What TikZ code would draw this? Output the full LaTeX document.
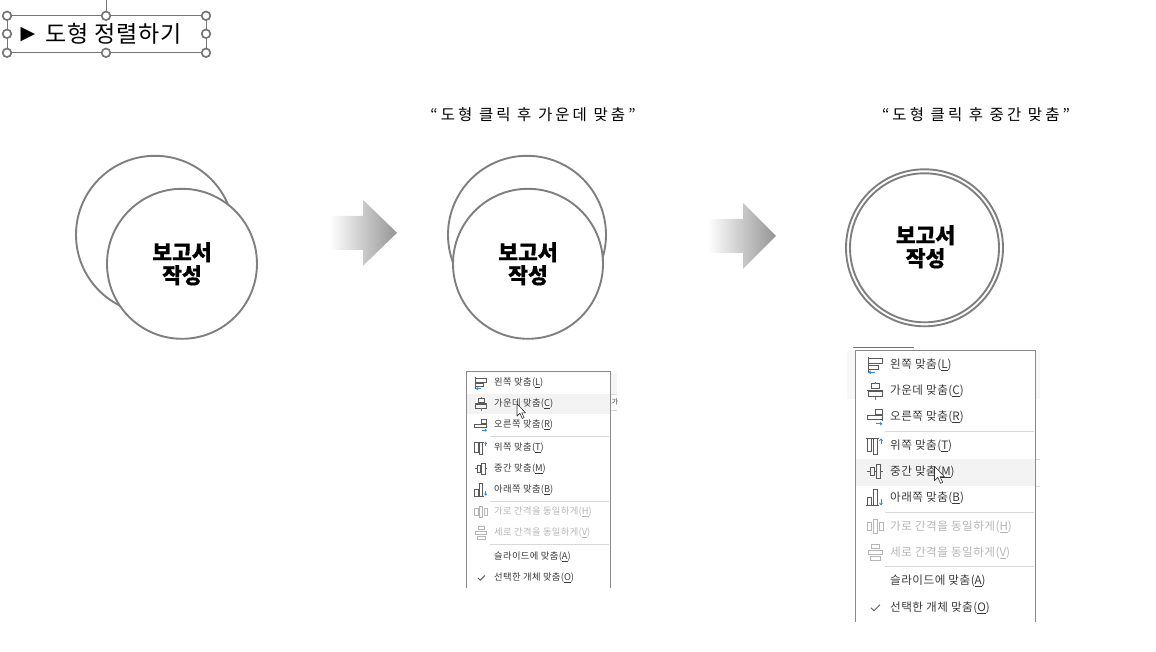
\documentclass[tikz,border=0pt]{standalone}
\usepackage{fontspec}
\setmainfont{Noto Sans CJK KR}
\newfontfamily\arrowfont{DejaVu Sans}
\newfontfamily\spacedfont[LetterSpace=20]{Noto Sans CJK KR}
\newfontfamily\titlefont[LetterSpace=4,WordSpace=1.6]{Noto Sans CJK KR}
\newfontfamily\menufont[LetterSpace=4]{Noto Sans CJK KR}
\newfontfamily\heavyfont[BoldFeatures={FakeBold=0.5}]{Noto Sans CJK KR}
\definecolor{ring}{HTML}{7F7F7F}
\definecolor{menuedge}{HTML}{8A8A8A}
\definecolor{sepline}{HTML}{D9D9D9}
\definecolor{hilite}{HTML}{F3F3F3}
\definecolor{itemtext}{HTML}{3A3A3A}
\definecolor{graytext}{HTML}{B5B5B5}
\definecolor{iconblue}{HTML}{2E8FD8}
\definecolor{icongray}{HTML}{5A5A5A}
\definecolor{handle}{HTML}{767676}
\tikzset{
  x=1pt,y=-1pt,
  ringc/.style={draw=ring,line width=1.9pt,fill=white},
  bigtext/.style={font=\heavyfont\fontsize{21.5}{23}\selectfont\bfseries,align=center,text=black,inner sep=0pt},
  quote/.style={font=\spacedfont\fontsize{15.5}{17}\selectfont,text=black,inner sep=0pt},
  handlec/.style={draw=handle,line width=1.7pt,fill=white},
  selbox/.style={draw=handle,line width=1pt},
  arrowshade/.style={left color=white,right color=black!42,draw=none,shading angle=90},
  itemA/.style={anchor=west,inner sep=0pt,text=itemtext,font=\menufont\fontsize{9.3}{10}\selectfont},
  itemB/.style={anchor=west,inner sep=0pt,text=itemtext,font=\menufont\fontsize{11.6}{12}\selectfont},
  dimA/.style={itemA,text=graytext},
  dimB/.style={itemB,text=graytext},
  medge/.style={draw=menuedge,line width=1pt},
  msep/.style={draw=sepline,line width=0.9pt},
  cursorc/.style={draw=black!80,fill=white,line width=0.6pt,line join=round},
  ico/.style={draw=icongray,line width=0.7pt,fill=none},
  icod/.style={draw=graytext,line width=0.7pt,fill=none},
  icoa/.style={draw=iconblue,line width=0.8pt},
  pics/alignleft/.style={code={
    \draw[ico] (-7,-8)--(-7,8); \draw[ico] (-7,-6) rectangle (7,-1); \draw[ico] (-7,1) rectangle (3,5);
    \draw[icoa] (-6,7.5)--(0,7.5); \draw[icoa] (-6,7.5)--(-4,6); \draw[icoa] (-6,7.5)--(-4,9);}},
  pics/aligncenter/.style={code={
    \draw[ico] (-4,-7) rectangle (4,-2); \draw[ico] (-7,1) rectangle (7,6);
    \draw[ico] (-8,-.5)--(8,-.5); \draw[icoa] (0,-9)--(0,-7); \draw[icoa] (0,6)--(0,9);}},
  pics/alignright/.style={code={
    \draw[ico] (7,-8)--(7,4); \draw[ico] (0,-7) rectangle (7,-2); \draw[ico] (-8,-1) rectangle (7,3);
    \draw[icoa] (1,7)--(7,7); \draw[icoa] (7,7)--(5,5.5); \draw[icoa] (7,7)--(5,8.5);}},
  pics/aligntop/.style={code={
    \draw[ico] (-9,-7)--(4,-7); \draw[ico] (-8,-7) rectangle (-4,6); \draw[ico] (-2,-7) rectangle (2,9);
    \draw[icoa] (6,-2)--(6,-7); \draw[icoa] (6,-7)--(4.5,-5); \draw[icoa] (6,-7)--(7.5,-5);}},
  pics/alignmid/.style={code={
    \draw[ico] (-8,0)--(-5,0); \draw[ico] (-1,0)--(1,0); \draw[ico] (5,0)--(8,0);
    \draw[ico] (-5,-4) rectangle (-1,4); \draw[ico] (1,-7) rectangle (5,7);}},
  pics/alignbot/.style={code={
    \draw[ico] (-9,8)--(4,8); \draw[ico] (-8,0) rectangle (-4,8); \draw[ico] (-2,-8) rectangle (2,8);
    \draw[icoa] (6,1)--(6,7); \draw[icoa] (6,7)--(4.5,5); \draw[icoa] (6,7)--(7.5,5);}},
  pics/disth/.style={code={
    \draw[icod] (-8,-4) rectangle (-4,4); \draw[icod] (-2,-7) rectangle (2,7); \draw[icod] (4,-4) rectangle (8,4);}},
  pics/distv/.style={code={
    \draw[icod] (-4,-8) rectangle (4,-4); \draw[icod] (-7,-2) rectangle (7,2); \draw[icod] (-5,4) rectangle (5,8);}},
  pics/tick/.style={code={
    \draw[draw=icongray,line width=0.9pt] (-4,0)--(-1,3)--(5,-3);}},
  pics/pointer/.style={code={
    \draw[cursorc] (0,0)--(0,13)--(3,10)--(5.5,15.5)--(7.5,14.5)--(5,9.5)--(9,9.5)--cycle;}},
}
\begin{document}
\begin{tikzpicture}
\useasboundingbox (0,-0.8) rectangle (1156,651.2);
% title box
\draw[selbox] (106,-0.8)--(106,15);
\draw[selbox] (7,15) rectangle (206,52);
\node[inner sep=0pt,font=\arrowfont\fontsize{19}{22}\selectfont] (tri) at (28,34) {▶};
\node[inner sep=0pt,anchor=west,font=\titlefont\fontsize{23}{26}\selectfont] (title) at (45,32.5) {도형 정렬하기};
\foreach \hx/\hy [count=\i] in {7/15,106/15,206/15,7/33,206/33,7/52,106/52,206/52}
  \draw[handlec] (\hx,\hy) circle (4.3);
% quotes
\node[quote] (q1) at (533,114) {“도형 클릭 후 가운데 맞춤”};
\node[quote] (q2) at (976,114) {“도형 클릭 후 중간 맞춤”};
% circles
\draw[ringc] (155,234) circle (79);
\draw[ringc] (182,263) circle (75);
\node[bigtext] (t1) at (182,263) {보고서\\작성};
\draw[ringc] (527,234) circle (79);
\draw[ringc] (528,263) circle (75);
\node[bigtext] (t2) at (528,263) {보고서\\작성};
\draw[ringc] (924.5,247) circle (78.5);
\draw[ringc] (924.5,247) circle (74.5);
\node[bigtext] (t3) at (925.5,246) {보고서\\작성};
% arrows
\shade[arrowshade] (330,215)--(363,215)--(363,199)--(397,232)--(363,265)--(363,249)--(330,249)--cycle;
\shade[arrowshade] (708,218)--(743,218)--(743,202)--(776,235)--(743,268)--(743,252)--(708,252)--cycle;
% menu 1
\fill[black!4] (610,372) rectangle (617,393);
\fill[hilite] (466,393) rectangle (610,413);
\draw[draw=black!15,line width=0.5pt] (610.5,393)--(617,393) (610.5,409)--(617,409);
\node[inner sep=0pt,font=\fontsize{7}{8}\selectfont,text=itemtext] (tip) at (615,401) {가};
\draw[medge] (466,587)--(466,371)--(610,371)--(610,587);
\foreach \sy in {436,501,544} \draw[msep] (490,\sy)--(609,\sy);
\pic[scale=.78] at (481,382) {alignleft};
\pic[scale=.78] at (481,403) {aligncenter};
\pic[scale=.78] at (481,424) {alignright};
\pic[scale=.78] at (481,447) {aligntop};
\pic[scale=.78] at (481,468) {alignmid};
\pic[scale=.78] at (481,489) {alignbot};
\pic[scale=.78] at (481,511) {disth};
\pic[scale=.78] at (481,532) {distv};
\pic[scale=.78] at (481,577) {tick};
\node[itemA] (a1) at (494,382) {왼쪽 맞춤(\underline{L})};
\node[itemA] (a2) at (494,403) {가운데 맞춤(\underline{C})};
\node[itemA] (a3) at (494,424) {오른쪽 맞춤(\underline{R})};
\node[itemA] (a4) at (494,447) {위쪽 맞춤(\underline{T})};
\node[itemA] (a5) at (494,468) {중간 맞춤(\underline{M})};
\node[itemA] (a6) at (494,489) {아래쪽 맞춤(\underline{B})};
\node[dimA] (a7) at (494,511) {가로 간격을 동일하게(\underline{H})};
\node[dimA] (a8) at (494,532) {세로 간격을 동일하게(\underline{V})};
\node[itemA] (a9) at (494,556) {슬라이드에 맞춤(\underline{A})};
\node[itemA] (a10) at (494,577) {선택한 개체 맞춤(\underline{O})};
\pic[scale=.95] at (517,403) {pointer};
% menu 2
\fill[black!3] (1035,350) rectangle (1040,398);
\fill[black!3] (847,350) rectangle (855,398);
\fill[hilite] (855,458) rectangle (1035,485);
\draw[draw=black!15,line width=0.5pt] (1035.5,458)--(1040,458) (1035.5,485)--(1040,485);
\draw[draw=black!55,line width=0.7pt] (853,347)--(914,347);
\draw[medge] (855,621)--(855,350)--(1035,350)--(1035,621);
\foreach \sy in {431,512,566} \draw[msep] (885,\sy)--(1034,\sy);
\pic at (875,364) {alignleft};
\pic at (875,390) {aligncenter};
\pic at (875,416) {alignright};
\pic at (875,445) {aligntop};
\pic at (875,471) {alignmid};
\pic at (875,497) {alignbot};
\pic at (875,526) {disth};
\pic at (875,552) {distv};
\pic at (875,607) {tick};
\node[itemB] (b1) at (890,364) {왼쪽 맞춤(\underline{L})};
\node[itemB] (b2) at (890,390) {가운데 맞춤(\underline{C})};
\node[itemB] (b3) at (890,416) {오른쪽 맞춤(\underline{R})};
\node[itemB] (b4) at (890,445) {위쪽 맞춤(\underline{T})};
\node[itemB] (b5) at (890,471) {중간 맞춤(\underline{M})};
\node[itemB] (b6) at (890,497) {아래쪽 맞춤(\underline{B})};
\node[dimB] (b7) at (890,526) {가로 간격을 동일하게(\underline{H})};
\node[dimB] (b8) at (890,552) {세로 간격을 동일하게(\underline{V})};
\node[itemB] (b9) at (890,580) {슬라이드에 맞춤(\underline{A})};
\node[itemB] (b10) at (890,607) {선택한 개체 맞춤(\underline{O})};
\pic[scale=1.1] at (934.5,465.5) {pointer};
\end{tikzpicture}
\end{document}
